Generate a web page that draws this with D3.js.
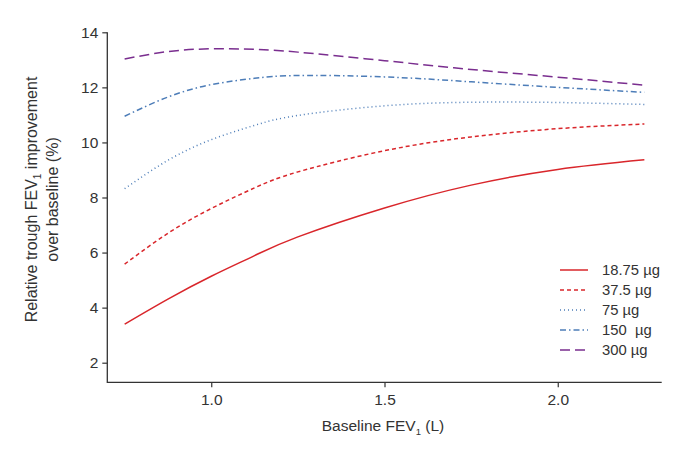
<!DOCTYPE html>
<html><head><meta charset="utf-8">
<script src="https://cdn.jsdelivr.net/npm/d3@7/dist/d3.min.js"></script>
<style>body{margin:0;background:#fff}svg{display:block}text{font-family:"Liberation Sans",Arial,Helvetica,sans-serif;fill:#333}</style>
</head><body><svg id="c" width="685" height="461"></svg>
<script>
const xValues = [0.75, 0.875, 1.0, 1.125, 1.25, 1.5, 1.75, 2.0, 2.25];
const doseLabels = ["18.75 µg", "37.5 µg", "75 µg", "150  µg", "300 µg"];
const dose18_75 = [3.40, 4.31, 5.14, 5.89, 6.57, 7.62, 8.45, 9.02, 9.37];
const dose37_5  = [5.58, 6.70, 7.60, 8.35, 8.93, 9.70, 10.20, 10.50, 10.67];
const dose75    = [8.32, 9.35, 10.10, 10.62, 10.98, 11.33, 11.46, 11.45, 11.38];
const dose150   = [10.95, 11.65, 12.10, 12.33, 12.43, 12.38, 12.20, 12.00, 11.82];
const dose300   = [13.03, 13.30, 13.40, 13.38, 13.28, 12.97, 12.65, 12.37, 12.08];
const xTicks = [1.0, 1.5, 2.0];
const yTicks = [2, 4, 6, 8, 10, 12, 14];

const seriesValues = [dose18_75, dose37_5, dose75, dose150, dose300];
const colors = ["#d9262b", "#d9262b", "#4d7db8", "#4d7db8", "#7a2e8f"];
const dashes = [null, "4,3", "1,3", "6,3,1.5,3", "10,5"];

const svg = d3.select("#c");
const x = d3.scaleLinear().domain([0.7, 2.3]).range([107.3, 661.7]);
const y = d3.scaleLinear().domain([2, 14]).range([362.7, 32.3]);
const yBottom = 382.3;

// axes
const xAxis = svg.append("g").attr("transform", `translate(0,${yBottom})`)
  .call(d3.axisBottom(x).tickValues(xTicks).tickFormat(d3.format(".1f")).tickSize(5).tickSizeOuter(0));
const yAxis = svg.append("g").attr("transform", `translate(107.3,0)`)
  .call(d3.axisLeft(y).tickValues(yTicks).tickSize(5).tickSizeOuter(0));
[xAxis, yAxis].forEach(a => {
  a.select(".domain").remove();
  a.selectAll("line").attr("stroke", "#333").attr("stroke-width", 1.2);
  a.selectAll("text").style("font-size", "15.5px").attr("fill", "#333");
});
xAxis.selectAll("text").attr("dy", "0.9em").attr("y", 9);
yAxis.selectAll("text").attr("x", -9);
svg.append("path").attr("d", `M107.3,32.3V${yBottom}H661.7`).attr("fill", "none").attr("stroke", "#333").attr("stroke-width", 1.3);

// lines
const line = d3.line().x((d, i) => x(xValues[i])).y(d => y(d)).curve(d3.curveNatural);
seriesValues.forEach((vals, k) => {
  svg.append("path").attr("d", line(vals)).attr("fill", "none")
    .attr("stroke", colors[k]).attr("stroke-width", 1.5)
    .attr("stroke-dasharray", dashes[k]);
});

// legend
doseLabels.forEach((lab, k) => {
  const ly = 270 + k * 20;
  svg.append("line").attr("x1", 560).attr("x2", 588).attr("y1", ly).attr("y2", ly)
    .attr("stroke", colors[k]).attr("stroke-width", 1.5).attr("stroke-dasharray", dashes[k]);
  svg.append("text").attr("x", 602).attr("y", ly).attr("dy", "0.35em")
    .style("font-size", "14.8px").style("white-space", "pre").text(lab);
});

// axis titles
const xt = svg.append("text").attr("x", 383).attr("y", 431).attr("text-anchor", "middle").style("font-size", "15.5px");
xt.append("tspan").text("Baseline FEV");
xt.append("tspan").attr("dy", 4).style("font-size", "9.5px").text("1");
xt.append("tspan").attr("dy", -4).text(" (L)");

const yt = svg.append("g").attr("transform", "translate(0,199.5) rotate(-90)");
const l1 = yt.append("text").attr("x", 0).attr("y", 37).attr("text-anchor", "middle").style("font-size", "16px");
l1.append("tspan").text("Relative trough FEV");
l1.append("tspan").attr("dy", 4).style("font-size", "10px").text("1");
l1.append("tspan").attr("dy", -4).text(" improvement");
yt.append("text").attr("x", 0).attr("y", 58).attr("text-anchor", "middle").style("font-size", "16px").text("over baseline (%)");
</script></body></html>
